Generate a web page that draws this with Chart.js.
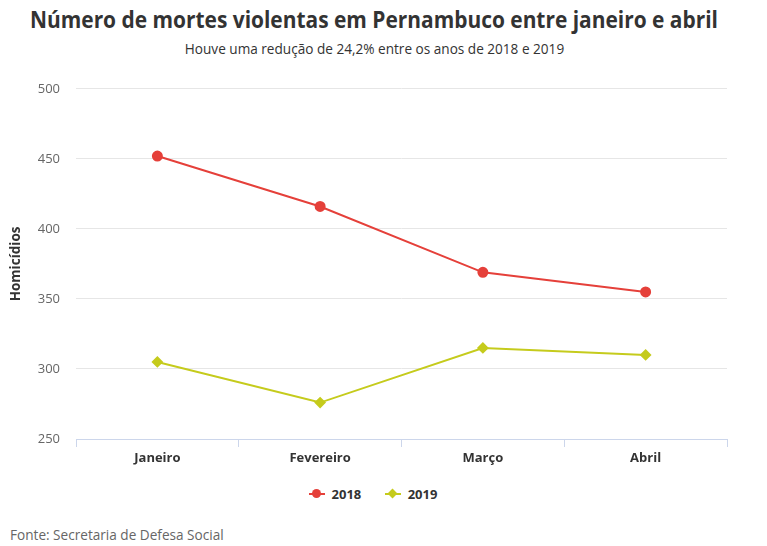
<!DOCTYPE html>
<html>
<head>
<meta charset="utf-8">
<script src="https://cdn.jsdelivr.net/npm/chart.js@4"></script>
<style>
  body { margin: 0; background: #fff; font-family: "Open Sans", sans-serif; }
  #wrap { position: relative; width: 767px; height: 546px; overflow: hidden; }
  #title { position: absolute; left: 374px; top: 2px; white-space: nowrap; font-size: 24px; font-weight: bold; color: #333; transform-origin: center top; }
  #subtitle { position: absolute; left: 0; width: 749px; top: 39px; text-align: center; font-size: 13.6px; color: #333; }
  #chartBox { position: absolute; left: 0; top: 65px; width: 767px; height: 405px; }
  #legend { position: absolute; left: 0; width: 746px; top: 485px; text-align: center; font-size: 13px; font-weight: bold; color: #333; }
  .item { display: inline-flex; align-items: center; margin: 0 10px; }
  .sym { position: relative; width: 16px; height: 14px; margin-right: 7px; }
  .sym .ln { position: absolute; left: 0; top: 6px; width: 16px; height: 2px; }
  .sym .mk { position: absolute; left: 3px; top: 2px; width: 9px; height: 9px; border-radius: 50%; }
  .sym .dm { position: absolute; left: 4px; top: 3px; width: 7px; height: 7px; transform: rotate(45deg); }
  #source { position: absolute; left: 10px; top: 525px; font-size: 13.6px; color: #666; }
</style>
</head>
<body>
<div id="wrap">
  <div id="title">Número de mortes violentas em Pernambuco entre janeiro e abril</div>
  <div id="subtitle">Houve uma redução de 24,2% entre os anos de 2018 e 2019</div>
  <div id="chartBox"><canvas id="chart"></canvas></div>
  <div id="legend">
    <span class="item"><span class="sym"><span class="ln" style="background:#e5403a"></span><span class="mk" style="background:#e5403a"></span></span>2018</span>
    <span class="item"><span class="sym"><span class="ln" style="background:#c5cb1c"></span><span class="dm" style="background:#c5cb1c"></span></span>2019</span>
  </div>
  <div id="source">Fonte: Secretaria de Defesa Social</div>
</div>
<script>
const months = ['Janeiro', 'Fevereiro', 'Março', 'Abril'];
const deaths2018 = [452, 416, 369, 355];
const deaths2019 = [305, 276, 315, 310];
const yTicks = [250, 300, 350, 400, 450, 500];

// compress the title to the width of the condensed original
const title = document.getElementById('title');
const w = title.getBoundingClientRect().width;
const sx = 688 / w;
title.style.transform = 'translateX(-50%) scaleX(' + sx + ')';

const ctx = document.getElementById('chart').getContext('2d');
new Chart(ctx, {
    type: 'line',
    data: {
        labels: months,
        datasets: [{
            label: '2018',
            data: deaths2018,
            borderColor: '#e5403a',
            backgroundColor: '#e5403a',
            borderWidth: 2,
            pointStyle: 'circle',
            pointRadius: 4.5,
            pointHoverRadius: 4.5,
            tension: 0
        }, {
            label: '2019',
            data: deaths2019,
            borderColor: '#c5cb1c',
            backgroundColor: '#c5cb1c',
            borderWidth: 2,
            pointStyle: 'rectRot',
            pointRadius: 4.5,
            pointHoverRadius: 4.5,
            tension: 0
        }]
    },
    options: {
        responsive: true,
        maintainAspectRatio: false,
        animation: false,
        layout: { padding: { top: 13, right: 40, left: 0, bottom: 0 } },
        plugins: {
            legend: { display: false },
            tooltip: { enabled: false }
        },
        scales: {
            x: {
                offset: true,
                grid: {
                    offset: true,
                    drawOnChartArea: false,
                    drawTicks: true,
                    tickLength: 8,
                    color: '#ccd6eb'
                },
                border: { color: '#ccd6eb' },
                ticks: {
                    color: '#333',
                    padding: 3,
                    font: { family: 'Open Sans', size: 13, weight: 'bold' }
                },
                afterFit: s => { s.height = 31; }
            },
            y: {
                min: 250,
                max: 500,
                afterBuildTicks: s => { s.ticks = yTicks.map(v => ({ value: v })); },
                grid: { color: '#e6e6e6', drawTicks: false },
                border: { display: false },
                ticks: {
                    color: '#666',
                    padding: 16,
                    font: { family: 'Open Sans', size: 13 }
                },
                title: {
                    display: true,
                    text: 'Homicídios',
                    color: '#333',
                    padding: { top: 8, bottom: 0 },
                    font: { family: 'Open Sans', size: 13.5, weight: 'bold' }
                },
                afterFit: s => { s.width = 76; }
            }
        }
    }
});
</script>
</body>
</html>
